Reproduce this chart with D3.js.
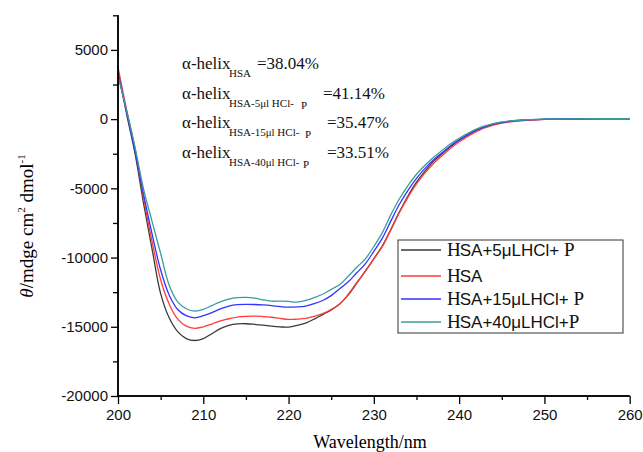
<!DOCTYPE html>
<html lang="en">
<head>
<meta charset="UTF-8">
<title>CD spectra</title>
<script src="https://cdn.jsdelivr.net/npm/d3@7"></script>
<style>
    body { margin: 0; background: #fff; }
    svg { display: block; }
</style>
</head>
<body>
<div id="chart"></div>
<script>
    var wavelength = [200, 201, 202, 203, 204, 205, 206, 207, 208, 209, 210, 211, 212, 213, 214, 215, 216, 217, 218, 219,
        220, 221, 222, 223, 224, 225, 226, 227, 228, 229, 230, 231, 232, 233, 234, 235, 236, 237, 238, 239,
        240, 242, 244, 246, 248, 250, 252, 254, 256, 258, 260];

    // HSA+5uL HCl+P (black)
    var hsa5 = [3500, 400, -2500, -6100, -9400, -12600, -14350, -15350, -15850, -15990, -15850, -15500, -15130, -14900, -14790, -14780, -14820, -14880, -14960, -15010,
        -15020, -14900, -14730, -14450, -14120, -13780, -13350, -12700, -11850, -10980, -10080, -9150, -7950, -6700, -5550, -4550, -3750, -3050, -2500, -1980,
        -1520, -810, -370, -160, -60, -15, 0, 10, 20, 20, 20];
    // HSA (red)
    var hsa = [3750, 700, -2150, -5700, -8850, -11600, -13350, -14450, -14950, -15110, -15000, -14800, -14580, -14420, -14300, -14250, -14230, -14260, -14310, -14400,
        -14470, -14450, -14400, -14250, -14050, -13750, -13350, -12650, -11800, -11000, -10100, -9200, -8000, -6750, -5650, -4680, -3880, -3200, -2650, -2100,
        -1650, -900, -440, -200, -85, -25, 0, 10, 20, 20, 20];
    // HSA+15uL HCl+P (blue)
    var hsa15 = [3300, 550, -2300, -5450, -8300, -10900, -12700, -13750, -14200, -14350, -14200, -13980, -13700, -13500, -13400, -13380, -13390, -13420, -13470, -13540,
        -13580, -13560, -13500, -13330, -13100, -12750, -12250, -11750, -11100, -10450, -9550, -8600, -7350, -6150, -5150, -4280, -3560, -2940, -2430, -1920,
        -1500, -790, -360, -150, -50, -10, 10, 20, 30, 30, 30];
    // HSA+40uL HCl+P (teal)
    var hsa40 = [3100, 650, -2050, -5050, -7400, -9700, -12000, -13200, -13700, -13870, -13750, -13470, -13200, -13000, -12900, -12880, -12930, -13050, -13150, -13150,
        -13170, -13220, -13100, -12900, -12650, -12300, -11950, -11350, -10700, -10100, -9200, -8200, -6900, -5750, -4800, -3980, -3330, -2750, -2270, -1780,
        -1380, -720, -330, -130, -40, 0, 10, 20, 30, 30, 30];

    var xTicks = [200, 210, 220, 230, 240, 250, 260];
    var xMinor = [205, 215, 225, 235, 245, 255];
    var yTicks = [-20000, -15000, -10000, -5000, 0, 5000];
    var yMinor = [-17500, -12500, -7500, -2500, 2500, 7500];

    var legendNames = ["SA+5μLHCl+ ", "SA", "SA+15μLHCl+ ", "SA+40μLHCl+"];
    var legendTail = ["P", "", "P", "P"];
    var helixSub = ["HSA", "HSA-5μl HCl-", "HSA-15μl HCl-", "HSA-40μl HCl-"];
    var helixSubP = ["", "P", "P", "P"];
    var helixValue = ["=38.04%", "=41.14%", "=35.47%", "=33.51%"];

    var series = [hsa5, hsa, hsa15, hsa40];
    var colors = ["#3a3a3a", "#ff3b3b", "#3333ff", "#3a9c9c"];

    var width = 643, height = 452;
    var svg = d3.select("#chart").append("svg")
        .attr("width", width)
        .attr("height", height);
    svg.append("rect").attr("width", width).attr("height", height).attr("fill", "#fff");

    var x = d3.scaleLinear().domain([200, 260]).range([118, 629.7]);
    var y = d3.scaleLinear().domain([-20000, 7500]).range([396, 15.3]);

    var sans = "'Liberation Sans', Arial, sans-serif";
    var serif = "'Liberation Serif', 'Times New Roman', serif";

    // curves
    var line = d3.line()
        .curve(d3.curveCatmullRom.alpha(0.5))
        .x(function (d, i) { return x(wavelength[i]); })
        .y(function (d) { return y(d); });

    svg.append("g").selectAll("path")
        .data(series)
        .enter().append("path")
        .attr("d", line)
        .attr("fill", "none")
        .attr("stroke", function (d, i) { return colors[i]; })
        .attr("stroke-width", 1.3);

    // axes
    var gx = svg.append("g").attr("transform", "translate(0,396)");
    gx.call(d3.axisBottom(x).tickValues(xTicks).tickSize(8).tickPadding(5).tickFormat(function (d) { return String(d); }));
    gx.append("g").call(d3.axisBottom(x).tickValues(xMinor).tickSize(4).tickFormat(""));

    var gy = svg.append("g").attr("transform", "translate(118,0)");
    gy.call(d3.axisLeft(y).tickValues(yTicks).tickSize(7).tickPadding(3).tickFormat(function (d) { return String(d); }));
    gy.append("g").call(d3.axisLeft(y).tickValues(yMinor).tickSize(5).tickFormat(""));

    svg.selectAll(".domain").attr("stroke", "#000").attr("stroke-width", 1.5);
    svg.selectAll(".tick line").attr("stroke", "#000").attr("stroke-width", 1.3);
    svg.selectAll(".tick text").attr("font-family", sans).attr("font-size", 15).attr("fill", "#111");
    gx.selectAll(".domain").attr("d", "M118,0H629.7");
    gy.selectAll(".domain").attr("d", "M0,15.3V396");

    // axis titles
    svg.append("text")
        .attr("x", 370).attr("y", 448)
        .attr("text-anchor", "middle")
        .attr("font-family", serif).attr("font-size", 18)
        .text("Wavelength/nm");

    var yt = svg.append("text")
        .attr("transform", "translate(33,226) rotate(-90)")
        .attr("text-anchor", "middle")
        .attr("font-family", serif).attr("font-size", 19);
    yt.append("tspan").attr("font-style", "italic").text("θ");
    yt.append("tspan").text("/mdge cm");
    yt.append("tspan").attr("font-size", 11).attr("dy", -8).text("2");
    yt.append("tspan").attr("dy", 8).text(" dmol");
    yt.append("tspan").attr("font-size", 11).attr("dy", -8).text("-1");

    // helix annotations
    var baseY = [69, 99, 128, 158];
    var valueX = [257, 323, 327, 327];
    var pX = [0, 301, 305, 303];
    var ann = svg.append("g").attr("font-family", serif).attr("fill", "#111");
    helixValue.forEach(function (v, i) {
        ann.append("text").attr("x", 182).attr("y", baseY[i]).attr("font-size", 17).text("α-helix");
        ann.append("text").attr("x", 229).attr("y", baseY[i] + 8).attr("font-size", 11).text(helixSub[i]);
        if (helixSubP[i]) {
            ann.append("text").attr("x", pX[i]).attr("y", baseY[i] + 10).attr("font-size", 11).text(helixSubP[i]);
        }
        ann.append("text").attr("x", valueX[i]).attr("y", baseY[i]).attr("font-size", 17).text(v);
    });

    // legend
    var rowY = [250, 276, 299, 322];
    var lg = svg.append("g");
    lg.append("rect")
        .attr("x", 398).attr("y", 240).attr("width", 225).attr("height", 93)
        .attr("fill", "#fff").attr("stroke", "#333").attr("stroke-width", 1);
    legendNames.forEach(function (n, i) {
        lg.append("line")
            .attr("x1", 401).attr("x2", 441).attr("y1", rowY[i]).attr("y2", rowY[i])
            .attr("stroke", colors[i]).attr("stroke-width", 1.3);
        var t = lg.append("text").attr("x", 447).attr("y", rowY[i] + 6).attr("fill", "#111");
        t.append("tspan").attr("font-family", serif).attr("font-size", 19).text("H");
        t.append("tspan").attr("font-family", sans).attr("font-size", 17).attr("dx", -1).text(n);
        if (legendTail[i]) {
            t.append("tspan").attr("font-family", serif).attr("font-size", 19).text(legendTail[i]);
        }
    });
</script>
</body>
</html>
